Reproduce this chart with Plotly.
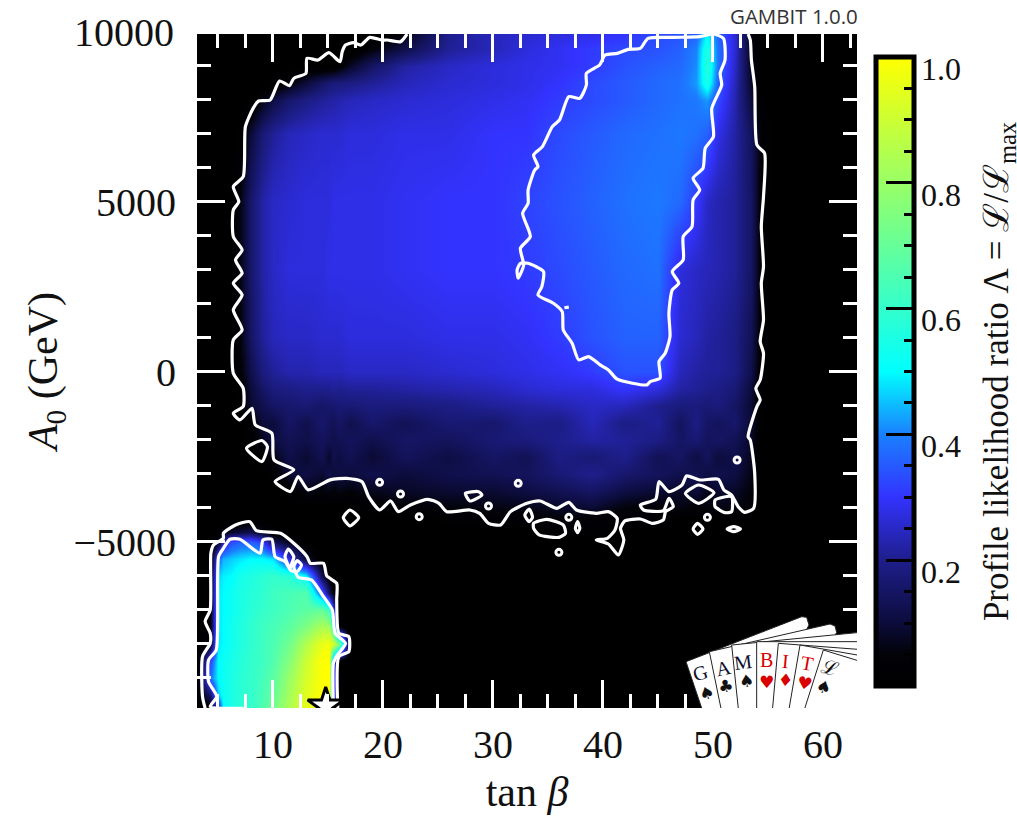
import plotly.graph_objects as go

# ---------- data ----------
tan_beta = [3.1,4.3,5,5.5,6.2,7,8,9,10,11.5,13,14.5,15.1,15.5,16,17,
            19,22,26,30,33,36,39,42,45,47,
            48.5,49.5,50.5,52,53.5,54.5,56,63.1]
a0 = [9932,9500,9000,8500,8000,7000,5000,3000,1000,0,-500,-1000,-1500,-2000,-2500,-3000,-3500,-4000,
      -4300,-4700,-5000,-5500,-6000,-6500,-7000,-7500,-8000,-8500,-9000,-9500,-9891]
# profile likelihood ratio in percent, one row per a0 value
blank_16 = [0]*16
blank_18 = [0]*18
ratio_pct = [
 blank_16+[0,6,20,24,26,27,28,30,33,34, 36,50,36,26,5,0,0,0],
 blank_16+[5,12,21,24,27,29,31,33,34,36, 40,56,38,26,6,0,0,0],
 [0,0,0,0,0,0,0,0,0,0,0,0,0,0,3,8, 15,22,25,27,28,29,31,34,36,37, 41,58,38,25,7,0,0,0],
 [0,0,0,0,0,0,0,0,0,5,10,15,17,18,18,19, 21,24,26,27,28,30,33,35,37,38, 42,55,36,24,8,0,0,0],
 [0,0,0,0,0,0,0,6,11,16,19,21,22,22,23,24, 25,26,27,28,29,31,33,35,37,38, 39,42,33,23,10,1,0,0],
 [0,0,0,0,0,2,10,17,21,24,25,26,26,26,26,27, 27,28,28,30,30,33,35,37,38,39, 38,36,28,22,14,3,0,0],
 [0,0,0,0,1,6,16,22,25,26,27,27,27,28,28,28, 28,29,30,30,32,34,36,38,39,37, 31,25,23,21,15,2,0,0],
 [0,0,0,0,1,6,16,22,25,27,27,27,28,28,28,28, 28,29,30,30,31,33,35,37,38,27, 25,24,23,21,15,2,0,0],
 [0,0,0,0,1,5,15,21,24,25,25,26,26,26,26,27, 27,27,28,28,29,31,34,36,36,26, 24,22,21,19,13,2,0,0],
 [0,0,0,0,0,4,12,18,21,23,23,24,24,24,24,25, 25,25,26,27,28,29,31,34,34,24, 22,21,21,19,12,1,0,0],
 [0,0,0,0,0,3,10,15,18,19,20,20,20,21,20,21, 21,22,23,24,26,27,27,30,27,22, 21,20,19,17,10,1,0,0],
 [0,0,0,0,0,3,9,12,15,16,17,15,16,16,17,17, 18,18,19,21,22,23,25,24,20,18, 18,17,18,15,9,1,0,0],
 [0,0,0,0,0,1,3,10,10,15,12,16,14,13,15,12, 16,13,17,16,20,19,24,19,21,14, 19,15,14,16,9,1,0,0],
 [0,0,0,0,0,0,2,7,11,13,12,14,13,12,13,14, 12,15,14,17,18,20,22,21,19,15, 17,14,15,13,8,0,0,0],
 [0,0,0,0,0,0,0,3,6,12,9,13,8,12,11,13, 9,14,11,15,13,19,17,20,13,15, 11,14,10,12,7,0,0,0],
 [0,0,0,0,0,0,0,0,3,9,11,9,12,10,11,10, 12,10,12,13,14,17,20,16,14,12, 13,11,12,11,6,0,0,0],
 [0,0,0,0,0,0,0,0,0,2,6,5,6,5,6,5, 7,8,9,9,11,13,15,11,9,8, 10,7,9,8,5,0,0,0],
 blank_16+[3,4,5,6,6,8,9,5,4,6, 4,5,6,6,4,0,0,0],
 blank_16+[0,0,2,3,4,5,4,3,3,1, 0,0,0,0,0,0,0,0],
 [0,0,0,6,8,10,12,7,2,0,0,0,0,0,0,0, 0,0,0,0,0,3,2,1,0,0, 0,0,0,0,0,0,0,0],
 [0,0,7,24,33,36,36,32,14,7,0,0,0,0,0,0]+blank_18,
 [0,1,36,44,46,48,50,50,48,28,10,0,0,0,0,0]+blank_18,
 [0,2,46,49,50,54,56,58,60,58,50,12,2,0,0,0]+blank_18,
 [0,2,48,50,52,55,57,59,62,64,66,34,14,6,0,0]+blank_18,
 [0,3,48,50,52,55,58,60,62,65,68,70,62,30,0,0]+blank_18,
 [0,3,48,50,53,56,59,62,64,68,75,84,82,60,5,0]+blank_18,
 [0,5,48,50,53,56,59,62,65,72,85,96,98,92,75,0]+blank_18,
 [0,32,50,52,54,57,60,62,66,76,90,100,100,36,2,0]+blank_18,
 [2,38,50,52,55,58,60,63,68,80,92,100,100,36,2,0]+blank_18,
 [1,15,46,52,55,58,60,64,70,82,94,100,100,36,2,0]+blank_18,
 [0,3,25,50,55,58,60,65,72,84,95,100,100,36,2,0]+blank_18,
]
assert all(len(r) == len(tan_beta) for r in ratio_pct) and len(ratio_pct) == len(a0)

# 2-sigma contour of the main region
main_outer = [
 (22.2,9931),(21.6,9706),(20.4,9755),(19.9,9755),(18.8,9833),(18.0,9608),(17.3,9677),(16.6,9608),(16.3,9412),
 (16.1,9118),(15.1,9382),(14.1,9167),(13.1,9216),(13.0,8775),(11.9,8628),(11.5,8412),(10.6,8550),(9.75,7991),
 (8.7,7962),(8.2,7746),(7.5,7207),(7.3,5737),(6.4,5443),(6.9,5002),(6.4,4757),(6.4,3973),(7.2,3581),(6.6,3287),
 (7.2,2895),(6.4,2601),(7.2,2258),(6.4,1817),(7.2,1229),(6.4,935),(6.4,-45),(7.3,-486),(7.3,-1025),(6.4,-1221),
 (7.0,-1417),(8.1,-1074),(8.4,-1564),(9.9,-1809),(10.1,-2593),(11.9,-2887),(10.2,-3230),(11.6,-3524),(12.3,-3083),
 (13.2,-3475),(15.2,-3181),(16.7,-3136),(18.1,-3234),(18.7,-3675),(19.7,-4067),(20.7,-3802),(21.4,-4116),
 (22.5,-3920),(24.1,-3753),(25.1,-3871),(25.8,-4116),(27.9,-4067),(28.8,-4165),(29.6,-4459),(30.7,-4508),
 (31.6,-4116),(33.1,-3871),(34.3,-3802),(35.8,-4018),(36.9,-3842),(37.6,-4067),(39.4,-4165),(40.5,-4116),
 (41.3,-4312),(41.1,-4655),(40.4,-4900),(39.4,-4949),(40.5,-5067),(41.4,-5390),(41.9,-4949),(41.6,-4606),
 (42.0,-4390),(43.4,-4332),(44.5,-4459),(45.5,-4361),(45.7,-4116),(46.4,-3969),(46.0,-3724),(45.5,-4087),
 (43.7,-4067),(43.4,-3920),(44.8,-3753),(45.1,-3234),(46.0,-3528),(47.2,-3332),(47.6,-3067),(48.8,-3185),
 (50.5,-3165),(51.0,-3479),(51.7,-3626),(52.3,-3969),(52.9,-4136),(53.7,-4018),(53.8,-2989),(53.4,-2009),
 (53.2,-1910),(54,-1028),(54.3,-832),(53.9,-489),(54.3,-241),(54.6,543),(54.3,886),(54.6,1523),(54.4,2601),
 (54.6,3091),(54.4,4267),(54.6,5149),(54.7,6423),(54,6668),(53.8,8383),(53.5,9167),(53.4,9755),(53.2,9931),
]
# 1-sigma contour of the main region
main_inner = [
 (50.05,9931),(48.8,9853),(46.4,9833),(44.1,9804),(43.4,9510),(42.3,9481),(41.3,9363),(40.2,9314),(39.7,9020),
 (38.5,8775),(38.5,8432),(37.9,8040),(36.9,8089),(36.05,7403),(35.4,7207),(34.5,6619),(33.7,6374),(34.1,6031),
 (33.8,5933),(33.2,5345),(33.2,4953),(32.7,4659),(33.4,3973),(32.5,3630),(32.8,3140),(32.3,2748),(32.2,2993),
 (32.5,3189),(33.2,3189),(34.6,2944),(34.45,2503),(34.1,2258),(35.5,2013),(36.3,1768),(36.4,1229),(37.2,837),
 (37.8,347),(38.7,445),(39.75,200),(40.5,53),(41.3,-221),(44,-388),(44.3,-290),(45.2,-192),(45.1,298),(45.66,543),
 (46.1,1033),(46,1719),(46.3,2405),(46.9,2601),(46.3,2944),(47.3,3287),(47.3,3973),(48.1,4267),(48.2,5051),
 (48.8,5345),(48.2,5688),(49.1,5982),(49.3,6570),(50.05,6913),(49.9,7746),(50.8,8432),(50.66,8775),(51.1,9167),
 (50.96,9804),(50.05,9931),
]
inner_speck = [(36.5,1880),(36.9,1900)]
# lower-left island
island_outer = [
 (3.84,-9898),(3.6,-9555),(3.6,-8379),(4.3,-7987),(4.3,-7693),(3.84,-7350),(4.3,-7007),(4.36,-5341),(4.6,-5096),
 (5.5,-4900),(5.5,-4753),(6.6,-4508),(7.9,-4410),(8.5,-4675),(10.7,-4753),(11.9,-5047),(13.1,-5439),(13.4,-5635),
 (14.6,-5635),(14.9,-6007),(15.8,-6223),(15.8,-6713),(16,-7693),(16.9,-7791),(16.9,-8232),(16,-8379),(15.9,-9898),
]
island_inner = [
 (7.33,-9898),(4.3,-9849),(4.9,-9555),(4.15,-9114),(4.15,-8477),(4.85,-8183),(5.06,-5439),(5.5,-5194),(6.1,-4929),
 (7.0,-4929),(8.84,-5341),(9.1,-4949),(9.9,-4929),(10.2,-5439),(11.1,-5586),(11.57,-5831),(11.1,-5439),(11.4,-5214),
 (11.9,-5439),(11.57,-5831),(12.2,-5880),(12.6,-5684),(12.2,-5557),(11.9,-5733),(12.3,-6047),(13.5,-6125),
 (14.6,-6615),(15.4,-7007),(15.66,-7693),(16.6,-7987),(15.8,-8359),(15.5,-8575),(15.5,-9898),
]
# small closed contours
loops = [
 [(17.0,-4067),(17.8,-4292),(17.0,-4537),(16.4,-4292),(17.0,-4067)],
 [(27.5,-3577),(28.7,-3528),(29,-3626),(27.9,-3803),(27.5,-3577)],
 [(33.3,-4038),(33.6,-4283),(33.3,-4410),(32.9,-4214),(33.3,-4038)],
 [(33.7,-4459),(34.9,-4341),(36.4,-4508),(36.6,-4753),(36,-4871),(34.2,-4802),(33.7,-4606),(33.7,-4459)],
 [(37.7,-4410),(37.9,-4606),(37.7,-4733),(37.5,-4606),(37.7,-4410)],
 [(47.5,-3577),(48.7,-3332),(50.1,-3557),(48.7,-3871),(47.5,-3577)],
 [(50.2,-3773),(51.7,-3675),(51.7,-4116),(51.1,-4145),(50.2,-3969),(50.2,-3773)],
 [(48.6,-4459),(49.1,-4626),(48.6,-4783),(48.2,-4626),(48.6,-4459)],
 [(51.3,-4626),(51.9,-4557),(52.5,-4626),(51.9,-4704),(51.3,-4626)],
 [(7.6,-2250),(9,-2024),(9.5,-2201),(9,-2642),(7.6,-2250)],
]
dots_x = [19.7,21.6,23.3,32.3,29.6,36.9,36,49.5,52.2]
dots_y = [-3254,-3597,-4263,-3283,-3949,-4283,-5312,-4283,-2597]
best_fit = (14.8,-9830)

colour_stops = [(0,"#000000"),(0.05,"#020208"),(0.1,"#0c0c3c"),(0.2,"#1e1e8c"),(0.3,"#3333ff"),
                (0.4,"#1a80ff"),(0.5,"#00ffff"),(1,"#ffff00")]
cbar_majors = [1.0,0.8,0.6,0.4,0.2]
cbar_labels = ["1.0","0.8","0.6","0.4","0.2"]
label_shift = 0.0183

SERIF = "Liberation Serif, DejaVu Serif, serif"
fig = go.Figure()
fig.add_trace(go.Heatmap(
    x=tan_beta, y=a0[::-1], z=[[v/100 for v in r] for r in ratio_pct[::-1]],
    colorscale=colour_stops, zmin=0, zmax=1, zsmooth="best", hoverinfo="skip",
    colorbar=dict(thickness=38, lenmode="pixels", len=629, x=(876-197)/660, xanchor="left", xpad=0,
                  y=(708-57)/674, yanchor="top", ypad=0, outlinecolor="black", outlinewidth=5,
                  tick0=0, dtick=0.05, ticks="inside", ticklen=12.5, tickwidth=2.5, tickcolor="black",
                  showticklabels=False)))
clear = [[0,"rgba(0,0,0,0)"],[1,"rgba(0,0,0,0)"]]
fig.add_trace(go.Heatmap(
    x=[3.1,4.3], y=[9500,9932], z=[[0,1],[0,1]], colorscale=clear, zmin=0, zmax=1, hoverinfo="skip",
    colorbar=dict(thickness=38, lenmode="pixels", len=629, x=(876-197)/660, xanchor="left", xpad=0,
                  y=(708-57)/674, yanchor="top", ypad=0, outlinewidth=0,
                  tickvals=cbar_majors, ticks="inside", ticklen=28, tickwidth=3, tickcolor="black",
                  showticklabels=False)))
pad = "\u00a0\u2009"
fig.add_trace(go.Heatmap(
    x=[3.1,4.3], y=[9500,9932], z=[[0,1],[0,1]], colorscale=clear, zmin=0, zmax=1, hoverinfo="skip",
    colorbar=dict(thickness=38, lenmode="pixels", len=629, x=(876-197)/660, xanchor="left", xpad=0,
                  y=(708-57)/674, yanchor="top", ypad=0, outlinewidth=0,
                  tickvals=[v-label_shift for v in cbar_majors], ticktext=[s+pad for s in cbar_labels], ticks="",
                  tickfont=dict(family=SERIF, size=32, color="#111"),
                  title=dict(text="Profile likelihood ratio Λ = ℒ/ℒ<sub>max</sub>", side="right",
                             font=dict(family=SERIF, size=35, color="#111")))))

line = dict(color="white", width=3.2, shape="spline", smoothing=0.6)
for path in [main_outer, main_inner, island_outer, island_inner, inner_speck] + loops:
    fig.add_trace(go.Scatter(x=[p[0] for p in path], y=[p[1] for p in path], mode="lines",
                             line=line, hoverinfo="skip", showlegend=False))
fig.add_trace(go.Scatter(x=dots_x, y=dots_y, mode="markers", hoverinfo="skip", showlegend=False,
                         marker=dict(symbol="circle-open", size=6, color="white", line=dict(color="white", width=3))))
fig.add_trace(go.Scatter(x=[best_fit[0]], y=[best_fit[1]], mode="markers", hoverinfo="skip", showlegend=False,
                         marker=dict(symbol="star", size=27, color="white", line=dict(color="black", width=3))))

# GAMBIT cards logo, defined in its own small frame and placed on the paper
def lx(v): return (660+v/3-197)/660
def ly(v): return (708-(600+v/3))/674
def dx(v): return 3.1+lx(v)*60
def dy(v): return -9891+ly(v)*19823
def card(pts):
    d = "M " + " L ".join(f"{dx(a):.3f} {dy(b):.1f}" for a,b in pts) + " Z"
    return dict(type="path", xref="x", yref="y", path=d, fillcolor="white", line=dict(color="#222", width=1))
cards = [
 [(78,185),(425,50),(440,52),(447,75),(300,345),(132,345)],
 [(148,155),(510,72),(525,78),(530,97),(400,345),(187,345)],
 [(215,135),(620,95),(620,345),(237,345)],
 [(290,125),(620,125),(620,345),(290,345)],
 [(355,130),(620,150),(620,345),(336,345)],
 [(420,135),(620,170),(620,345),(384,345)],
 [(490,150),(620,190),(620,345),(428,345)],
]
shapes = [card(c) for c in cards]
logo_text = [("G",120,220,-18,"#101030"),("A",190,205,-12,"#101030"),("M",250,185,-7,"#101030"),
             ("B",320,179,0,"#d80000"),("I",375,183,5,"#d80000"),("T",440,190,10,"#d80000"),("ℒ",510,205,17,"#111")]
logo_suit = [("♠",140,280,-18,"#111"),("♣",197,258,-12,"#111"),("♠",258,243,-7,"#111"),
             ("♥",318,245,0,"#d80000"),("♦",375,240,5,"#d80000"),("♥",433,250,10,"#d80000"),("♠",490,262,17,"#111")]
annotations = []
for t,a,b,ang,col in logo_text:
    annotations.append(dict(text=t, x=lx(a), y=ly(b), xref="paper", yref="paper", xanchor="center", yanchor="middle",
                            showarrow=False, textangle=ang, font=dict(family=SERIF, size=20, color=col)))
for t,a,b,ang,col in logo_suit:
    annotations.append(dict(text=t, x=lx(a), y=ly(b), xref="paper", yref="paper", xanchor="center", yanchor="middle",
                            showarrow=False, textangle=ang, font=dict(family="DejaVu Sans", size=17, color=col)))
annotations.append(dict(text="10000", x=0, y=1, xref="paper", yref="paper", xanchor="right", yanchor="middle",
                        xshift=-21, yshift=2, showarrow=False, font=dict(family=SERIF, size=40, color="#111")))
annotations.append(dict(text="GAMBIT 1.0.0", x=1, y=1, xref="paper", yref="paper", xanchor="right", yanchor="bottom",
                        xshift=3, yshift=2, showarrow=False, font=dict(family="Open Sans", size=20.5, color="#333")))

def axis(dtick, minor, rng, title, standoff, labelgap):
    return dict(range=rng, tick0=0, dtick=dtick, ticks="inside", ticklen=28, tickwidth=3, tickcolor="white",
                mirror="ticks", showgrid=False, zeroline=False, showline=False, tickformat="d",
                minor=dict(ticks="inside", ticklen=14, tickwidth=3, tickcolor="white", tick0=0, dtick=minor, showgrid=False),
                tickfont=dict(family=SERIF, size=40, color="#111"), ticklabelstandoff=labelgap,
                title=dict(text=title, font=dict(family=SERIF, size=42, color="#111"), standoff=standoff))
fig.update_layout(
    width=1017, height=819, margin=dict(l=197, r=160, t=34, b=111, autoexpand=False),
    paper_bgcolor="white", plot_bgcolor="black", showlegend=False,
    xaxis=axis(10, 2.5, [3.1,63.1], "tan <i>β</i>", 10, 9),
    yaxis=axis(5000, 1000, [-9891,9932], "<i>A</i><sub>0</sub> (GeV)", 2, 20),
    shapes=shapes, annotations=annotations)
fig.write_html("out.html", config=dict(displayModeBar=False),
               post_script="document.body.style.margin='0';document.documentElement.style.overflow='hidden';")
